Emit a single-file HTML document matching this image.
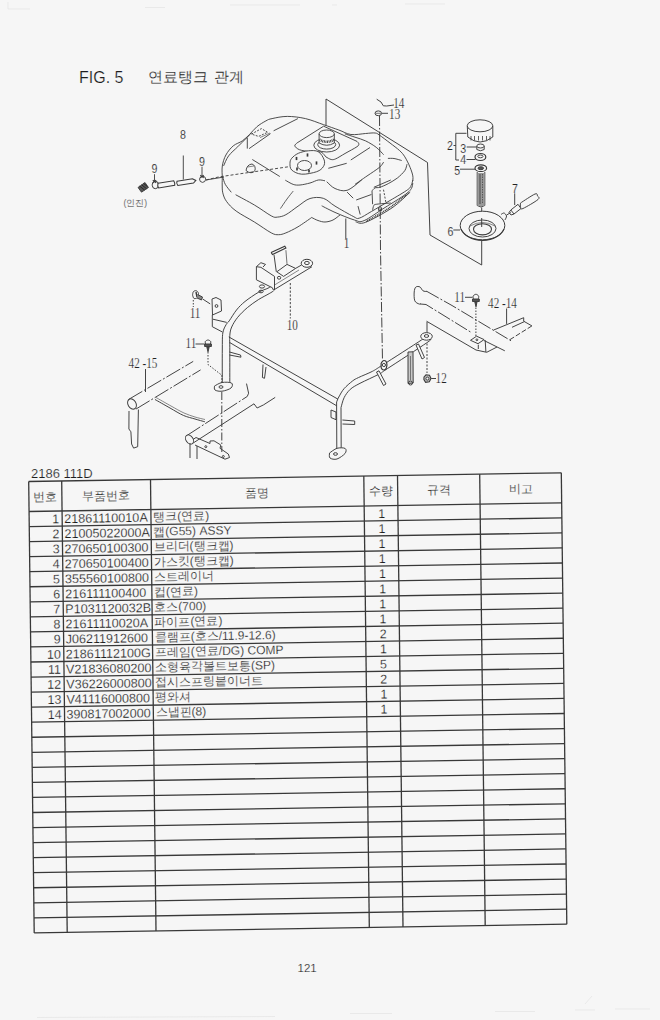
<!DOCTYPE html>
<html><head><meta charset="utf-8">
<style>
html,body{margin:0;padding:0;background:#f6f6f6;}
body{width:660px;height:1020px;position:relative;overflow:hidden;font-family:"Liberation Sans",sans-serif;}
svg{position:absolute;left:0;top:0;}
text{font-family:"Liberation Sans",sans-serif;fill:#1e1e1e;stroke:#f6f6f6;stroke-width:0.18px;paint-order:fill;}
.n{font-size:12.5px;}
.pn{font-size:12.6px;}
.nm{font-size:12px;}
.hd{font-size:12px;}
</style></head><body>
<svg width="660" height="1020" viewBox="0 0 660 1020">
<g stroke="#e4e4e4" stroke-width="0.7" fill="none">
<path d="M8,2 L8,9 L30,9 M145,7.5 L165,7.5 M230,5 L300,5 M405,4 L445,4 M332,5 L337,5"/>
<path d="M37,1017.5 L275,1016.5 M350,1013.5 L392,1013.5 M495,1011.5 L535,1011.5 M575,1010 L595,1010 M615,1009 L650,1009 M585,1004 L592,996"/>
</g>
<text x="79" y="83" style="font-size:16px">FIG. 5</text>
<text x="147.5" y="81.7" style="font-size:15.2px;word-spacing:2.5px">연료탱크 관계</text>
<text x="31" y="478.3" style="font-size:13px">2186 111D</text>
<text x="297.5" y="972.3" style="font-size:11.5px">121</text>
<g transform="matrix(1 -0.0163 0.0122 1 28.7 481.5)">
<g stroke="#383838" stroke-width="1.3" fill="none">
<line x1="0" y1="0" x2="0" y2="451.40"/>
<line x1="33" y1="0" x2="33" y2="451.40"/>
<line x1="121.8" y1="0" x2="121.8" y2="451.40"/>
<line x1="335.1" y1="0" x2="335.1" y2="451.40"/>
<line x1="368.8" y1="0" x2="368.8" y2="451.40"/>
<line x1="451" y1="0" x2="451" y2="451.40"/>
<line x1="532.6" y1="0" x2="532.6" y2="451.40"/>
<line x1="0" y1="0.00" x2="532.6" y2="0.00"/>
<line x1="0" y1="30.00" x2="532.6" y2="30.00"/>
<line x1="0" y1="45.05" x2="532.6" y2="45.05"/>
<line x1="0" y1="60.10" x2="532.6" y2="60.10"/>
<line x1="0" y1="75.15" x2="532.6" y2="75.15"/>
<line x1="0" y1="90.20" x2="532.6" y2="90.20"/>
<line x1="0" y1="105.25" x2="532.6" y2="105.25"/>
<line x1="0" y1="120.30" x2="532.6" y2="120.30"/>
<line x1="0" y1="135.35" x2="532.6" y2="135.35"/>
<line x1="0" y1="150.40" x2="532.6" y2="150.40"/>
<line x1="0" y1="165.45" x2="532.6" y2="165.45"/>
<line x1="0" y1="180.50" x2="532.6" y2="180.50"/>
<line x1="0" y1="195.55" x2="532.6" y2="195.55"/>
<line x1="0" y1="210.60" x2="532.6" y2="210.60"/>
<line x1="0" y1="225.65" x2="532.6" y2="225.65"/>
<line x1="0" y1="240.70" x2="532.6" y2="240.70"/>
<line x1="0" y1="255.75" x2="532.6" y2="255.75"/>
<line x1="0" y1="270.80" x2="532.6" y2="270.80"/>
<line x1="0" y1="285.85" x2="532.6" y2="285.85"/>
<line x1="0" y1="300.90" x2="532.6" y2="300.90"/>
<line x1="0" y1="315.95" x2="532.6" y2="315.95"/>
<line x1="0" y1="331.00" x2="532.6" y2="331.00"/>
<line x1="0" y1="346.05" x2="532.6" y2="346.05"/>
<line x1="0" y1="361.10" x2="532.6" y2="361.10"/>
<line x1="0" y1="376.15" x2="532.6" y2="376.15"/>
<line x1="0" y1="391.20" x2="532.6" y2="391.20"/>
<line x1="0" y1="406.25" x2="532.6" y2="406.25"/>
<line x1="0" y1="421.30" x2="532.6" y2="421.30"/>
<line x1="0" y1="436.35" x2="532.6" y2="436.35"/>
<line x1="0" y1="451.40" x2="532.6" y2="451.40"/>
</g>
<text x="30" y="42.10" text-anchor="end" class="n">1</text>
<text x="35" y="42.10" class="pn">21861110010A</text>
<text x="124" y="41.10" class="nm">탱크(연료)</text>
<text x="352.5" y="42.10" text-anchor="middle" class="n">1</text>
<text x="30" y="57.15" text-anchor="end" class="n">2</text>
<text x="35" y="57.15" class="pn">21005022000A</text>
<text x="124" y="56.15" class="nm">캡(G55) ASSY</text>
<text x="352.5" y="57.15" text-anchor="middle" class="n">1</text>
<text x="30" y="72.20" text-anchor="end" class="n">3</text>
<text x="35" y="72.20" class="pn">270650100300</text>
<text x="124" y="71.20" class="nm">브리더(탱크캡)</text>
<text x="352.5" y="72.20" text-anchor="middle" class="n">1</text>
<text x="30" y="87.25" text-anchor="end" class="n">4</text>
<text x="35" y="87.25" class="pn">270650100400</text>
<text x="124" y="86.25" class="nm">가스킷(탱크캡)</text>
<text x="352.5" y="87.25" text-anchor="middle" class="n">1</text>
<text x="30" y="102.30" text-anchor="end" class="n">5</text>
<text x="35" y="102.30" class="pn">355560100800</text>
<text x="124" y="101.30" class="nm">스트레이너</text>
<text x="352.5" y="102.30" text-anchor="middle" class="n">1</text>
<text x="30" y="117.35" text-anchor="end" class="n">6</text>
<text x="35" y="117.35" class="pn">216111100400</text>
<text x="124" y="116.35" class="nm">컵(연료)</text>
<text x="352.5" y="117.35" text-anchor="middle" class="n">1</text>
<text x="30" y="132.40" text-anchor="end" class="n">7</text>
<text x="35" y="132.40" class="pn">P1031120032B</text>
<text x="124" y="131.40" class="nm">호스(700)</text>
<text x="352.5" y="132.40" text-anchor="middle" class="n">1</text>
<text x="30" y="147.45" text-anchor="end" class="n">8</text>
<text x="35" y="147.45" class="pn">21611110020A</text>
<text x="124" y="146.45" class="nm">파이프(연료)</text>
<text x="352.5" y="147.45" text-anchor="middle" class="n">1</text>
<text x="30" y="162.50" text-anchor="end" class="n">9</text>
<text x="35" y="162.50" class="pn">J06211912600</text>
<text x="124" y="161.50" class="nm">클램프(호스/11.9-12.6)</text>
<text x="352.5" y="162.50" text-anchor="middle" class="n">2</text>
<text x="30" y="177.55" text-anchor="end" class="n">10</text>
<text x="35" y="177.55" class="pn">21861112100G</text>
<text x="124" y="176.55" class="nm">프레임(연료/DG) COMP</text>
<text x="352.5" y="177.55" text-anchor="middle" class="n">1</text>
<text x="30" y="192.60" text-anchor="end" class="n">11</text>
<text x="35" y="192.60" class="pn">V21836080200</text>
<text x="124" y="191.60" class="nm">소형육각볼트보통(SP)</text>
<text x="352.5" y="192.60" text-anchor="middle" class="n">5</text>
<text x="30" y="207.65" text-anchor="end" class="n">12</text>
<text x="35" y="207.65" class="pn">V36226000800</text>
<text x="124" y="206.65" class="nm">접시스프링붙이너트</text>
<text x="352.5" y="207.65" text-anchor="middle" class="n">2</text>
<text x="30" y="222.70" text-anchor="end" class="n">13</text>
<text x="35" y="222.70" class="pn">V41116000800</text>
<text x="124" y="221.70" class="nm">평와셔</text>
<text x="352.5" y="222.70" text-anchor="middle" class="n">1</text>
<text x="30" y="237.75" text-anchor="end" class="n">14</text>
<text x="35" y="237.75" class="pn">390817002000</text>
<text x="124" y="236.75" class="nm">스냅핀(8)</text>
<text x="352.5" y="237.75" text-anchor="middle" class="n">1</text>
<text x="16.5" y="19.3" text-anchor="middle" class="hd">번호</text>
<text x="77.4" y="19.3" text-anchor="middle" class="hd">부품번호</text>
<text x="228.4" y="19.3" text-anchor="middle" class="hd">품명</text>
<text x="352" y="19.3" text-anchor="middle" class="hd">수량</text>
<text x="409.9" y="19.3" text-anchor="middle" class="hd">규격</text>
<text x="491.8" y="19.3" text-anchor="middle" class="hd">비고</text>
</g>
<g id="diagram" fill="none" stroke="#333" stroke-width="1">
<!-- Region A: fittings -->
<g id="A" stroke="#3a3a3a" stroke-width="0.9">
<line x1="154.5" y1="174.2" x2="154.5" y2="182.5"/>
<line x1="183.3" y1="155.5" x2="183.3" y2="179.5"/>
<line x1="202" y1="166.7" x2="202" y2="176.7"/>
<path d="M138,187.5 L145,182.5 L148.5,187.5 L141.5,192.2 Z" fill="#555" stroke="#333" stroke-width="0.8"/>
<path d="M139.5,186 l5,4 M141.5,184.7 l5,4 M143.5,183.4 l4,3.2" stroke="#222" stroke-width="0.9"/>
<path d="M152.3,184.2 q0.2,-2.8 3,-3 q3,0.2 3.2,3 l0,1.5 q-0.2,2.8 -3.2,3 q-2.8,-0.2 -3,-3 z" fill="#f6f6f6" stroke-width="1"/>
<path d="M158,183.3 L173.7,180.8 Q175.2,183 174.7,185.3 L158.7,188 Q157.2,185.6 158,183.3 Z" fill="#f6f6f6" stroke-width="1.1"/>
<path d="M177,181.2 L192.5,178.7 L195.8,180.5 L193.5,183 L177.8,185.5 Q176,183.3 177,181.2 Z" fill="#f6f6f6" stroke-width="1.1"/>
<path d="M199.5,179 q0.5,-2.8 3.2,-2.8 q3,0.2 3,3 q-0.3,3 -3.2,3.2 q-3,-0.2 -3,-3.4 z" fill="#f6f6f6"/>
<path d="M200.3,175.3 l3.4,2.6 M203.7,175.3 l-3.4,2.6" stroke-width="1.1"/>
<path d="M152.8,180.3 l3.4,2.6 M156.2,180.3 l-3.4,2.6" stroke-width="1.1"/>
<line x1="205.8" y1="180" x2="224" y2="177"/>
</g>

<g id="tank" stroke="#3a3a3a" stroke-width="0.9">
<path d="M222.3,177.0 C222.3,175.2 221.7,169.7 222.3,166.0 C222.9,162.3 224.1,158.3 225.9,155.0 C227.7,151.7 230.5,148.2 233.2,145.9 C235.9,143.6 239.6,142.8 242.3,140.9 C245.0,139.0 247.1,136.8 249.5,134.5 C251.9,132.2 254.1,129.1 256.8,126.8 C259.5,124.5 263.3,122.3 265.9,120.9 C268.4,119.5 268.5,119.3 272.1,118.6 C275.7,117.8 281.7,116.4 287.3,116.4 C292.9,116.4 299.4,117.2 305.5,118.6 C311.6,120.0 318.1,122.8 323.6,124.7 C329.2,126.6 334.2,128.4 338.8,130.0 C343.4,131.6 346.4,133.9 350.9,134.5 C355.4,135.1 361.6,133.8 365.6,133.5 C369.6,133.2 372.8,132.7 375.1,133.0 C377.4,133.3 376.9,133.4 379.4,135.1 C381.9,136.8 386.6,140.4 390.0,143.0 C393.4,145.6 397.0,148.2 399.5,150.5 C402.0,152.8 403.0,154.0 404.8,156.8 C406.6,159.6 408.8,164.2 410.1,167.4 C411.4,170.6 412.4,173.6 412.8,175.9 C413.2,178.2 412.8,180.2 412.8,181.0" />
<path d="M223.6,165.9 C224.4,164.2 226.2,159.1 228.6,155.9 C230.9,152.7 234.8,149.7 237.7,146.8 C240.6,143.9 243.6,140.9 245.9,138.6 C248.2,136.3 250.5,134.1 251.4,133.2" />
<path d="M222.3,177.0 C222.3,178.3 222.1,182.3 222.2,185.0 C222.3,187.7 222.1,190.2 222.8,192.9 C223.5,195.6 224.3,198.4 226.5,201.4 C228.7,204.4 231.5,207.7 236.2,211.1 C240.8,214.5 248.6,218.4 254.4,222.0 C260.2,225.6 267.3,230.8 271.3,232.9 C275.3,235.0 276.2,234.7 278.6,234.7 C281.0,234.7 282.7,234.2 285.9,232.9 C289.1,231.6 293.7,229.4 298.0,226.8 C302.3,224.2 309.4,219.1 311.7,217.5" />
<path d="M311.7,217.5 C312.8,218.0 315.8,219.8 318.0,220.5 C320.2,221.2 322.5,222.1 325.0,222.0 C327.5,221.9 330.5,221.2 333.0,220.0 C335.5,218.8 338.8,215.8 340.0,215.0" />
<path d="M222.8,177.1 C223.2,178.3 223.9,181.9 225.3,184.4 C226.7,186.9 230.3,191.0 231.3,192.3" />
<path d="M235.6,194.7 C238.7,196.4 248.4,201.5 254.4,205.0 C260.4,208.5 267.5,213.9 271.3,215.9 C275.1,217.9 275.0,217.3 277.4,217.1 C279.8,216.9 282.5,216.5 285.9,214.7 C289.3,212.9 294.0,208.9 298.0,206.2 C302.0,203.5 305.8,199.8 310.0,198.5 C314.2,197.2 319.1,197.0 323.3,198.3 C327.5,199.6 330.0,203.1 335.0,206.1 C340.0,209.1 349.2,214.4 353.2,216.4 C357.2,218.4 356.2,219.0 359.2,218.2 C362.2,217.4 366.3,214.4 371.4,211.5 C376.5,208.6 383.9,204.1 390.0,200.5 C396.1,196.9 404.1,192.3 407.7,189.7 C411.3,187.1 410.5,186.4 411.4,184.8 C412.2,183.2 412.6,180.8 412.8,180.0" />
<path d="M321.7,205.8 C323.9,206.9 329.6,210.0 335.0,212.4 C340.4,214.8 349.5,218.6 354.4,220.0 C359.2,221.4 359.0,222.7 364.1,220.6 C369.2,218.5 378.1,211.8 385.0,207.5 C391.9,203.2 400.9,197.7 405.3,194.5 C409.7,191.3 410.1,190.4 411.4,188.5 C412.6,186.6 412.6,183.9 412.8,183.0" />
<path d="M355.6,221.8 C357.2,221.9 359.2,224.7 365.3,222.4 C371.4,220.1 384.5,213.0 392.0,207.9 C399.5,202.8 407.2,194.7 410.2,192.1" />
<path d="M366.0,221.5 C370.0,219.2 382.9,212.2 390.0,207.4 C397.1,202.6 405.4,195.2 408.5,192.8" stroke-width="1.6" stroke-dasharray="1,0.8"/>
<path d="M280.4,208.6 C281.5,207.0 284.9,201.9 287.0,199.0 C289.1,196.1 292.2,192.4 293.2,191.1" stroke-width="0.8"/>
<path d="M285.3,180.2 C286.6,180.9 290.8,183.6 293.2,184.4 C295.6,185.2 297.2,185.2 300.0,185.0 C302.8,184.8 306.9,183.8 310.0,183.0 C313.1,182.2 315.8,180.4 318.3,180.0 C320.8,179.6 323.9,180.7 325.0,180.8" />
<path d="M355.0,184.4 C357.0,183.0 362.9,178.8 367.0,176.0 C371.1,173.2 376.6,169.7 379.4,167.4 C382.2,165.1 382.9,163.0 383.6,162.1" />
<path d="M372.0,190.9 C372.5,190.4 373.7,188.5 375.0,187.9 C376.3,187.3 377.6,188.0 379.8,187.3 C382.0,186.6 385.4,185.2 388.3,183.6 C391.2,182.0 394.6,180.2 397.4,178.0 C400.1,175.8 403.2,172.9 404.8,170.6 C406.4,168.3 406.6,165.3 407.0,164.2" />
<path d="M372.0,190.9 L372.6,204.2" />
<path d="M372.6,210.3 C372.8,209.5 373.1,206.5 373.8,205.5 C374.5,204.5 374.0,204.6 376.8,204.2 C379.6,203.8 388.5,203.2 390.8,203.0" />
<path d="M383.5,189.7 L385.9,202.4" stroke-dasharray="2,1.5"/>
<path d="M356.2,200.0 L371.4,194.5" />
<path d="M358.0,206.1 L360.2,214.5" />
<path d="M347.1,192.1 L353.2,198.2" />
<path d="M326.7,181.7 C328.1,182.8 331.6,187.1 335.0,188.5 C338.4,189.9 342.7,191.7 347.1,190.3 C351.6,188.9 359.3,181.7 361.7,180.0" />
<path d="M373.8,187.3 L390.8,180.0" />
<rect x="378.6" y="207.9" width="3" height="2.4"/>
<path d="M344.8,133.8 C346.5,134.4 351.5,136.0 355.0,137.2 C358.5,138.4 362.1,139.2 365.6,140.9 C369.1,142.6 373.2,145.0 376.2,147.3 C379.2,149.6 382.4,153.5 383.6,154.7" />
<path d="M387.9,158.4 C388.9,158.4 391.7,158.2 394.0,158.5 C396.3,158.8 400.4,160.2 401.7,160.5" />
<path d="M346.7,163.3 L328.3,168.3" />
<path d="M350.8,160.0 L370.0,147.5" />
<path d="M247.3,137.7 L247.3,148.6" />
<path d="M249.1,148.6 L270.5,133.6" />
<path d="M251.4,134.1 L261.4,128.6 L267.7,132.3 L258.6,136.4 L251.4,134.1" stroke-dasharray="2,1.3"/>
<path d="M273.6,130.8 L297.9,118.6" />
<path d="M260.0,137.6 L270.0,133.0" stroke-width="0.6"/>
<path d="M252.3,159.5 L279.8,176.5" />
<path d="M246,170.5 Q247,164.5 252,164 Q256,165.5 255,170.5 Q251.5,175 246,170.5 Z"/>
<path d="M247.5,167.0 L254.0,166.0" stroke-width="0.6"/>
<path d="M206.0,180.0 L218.0,177.1 L233.8,174.7 L288.3,166.8" stroke-dasharray="3,2"/>
<path d="M297.1,142.9 C296.7,143.4 294.4,144.8 294.8,145.9 C295.2,147.0 296.9,148.7 299.4,149.7 C301.9,150.7 307.0,151.2 310.0,151.8 C313.0,152.4 316.3,153.2 317.6,153.5" />
<path d="M297.1,142.9 L323.6,126.2" />
<path d="M323.6,126.2 L357.0,141.4" />
<path d="M357.0,141.4 C357.3,141.8 358.8,142.9 358.8,143.8 C358.8,144.7 359.3,145.1 357.0,146.7 C354.7,148.3 348.5,151.5 345.0,153.5 C341.5,155.5 338.1,157.8 335.8,158.8 C333.5,159.8 332.8,159.8 331.2,159.5 C329.6,159.2 326.9,157.4 326.0,157.0" />
<ellipse cx="326.7" cy="145.2" rx="12.9" ry="6.8" fill="#f6f6f6"/>
<ellipse cx="326.7" cy="144.6" rx="9" ry="4.5"/>
<path d="M319.1,133.8 L319.1,143 Q326.7,147.5 334.3,143 L334.3,133.8" fill="#f6f6f6"/>
<ellipse cx="326.7" cy="133.8" rx="7.6" ry="3.8" fill="#f6f6f6"/>
<path d="M319.5,139.5 Q326.7,144 334,139.5" stroke-width="2.6" stroke-dasharray="0.9,0.7"/>
<path d="M291.7,158.3 C293.1,156.6 295.5,154.6 298.3,153.3 C301.1,152.1 305.0,151.1 308.3,150.8 C311.6,150.5 315.7,150.2 318.3,151.7 C320.9,153.2 323.4,157.5 324.2,160.0 C325.0,162.5 324.6,164.8 323.3,166.7 C322.1,168.6 320.3,170.4 316.7,171.7 C313.1,172.9 305.9,174.5 301.7,174.2 C297.5,173.9 293.6,171.8 291.7,170.0 C289.8,168.2 290.0,165.2 290.0,163.3 C290.0,161.4 290.3,160.0 291.7,158.3 Z" fill="#f6f6f6"/>
<path d="M318.3,151.7 C318.9,151.8 320.7,151.6 322.0,152.5 C323.3,153.4 325.3,156.2 326.0,157.0" />
<ellipse cx="304.5" cy="165.5" rx="7" ry="5"/>
<line x1="296.5" y1="156.9" x2="296.5" y2="160.1" stroke-width="1.7"/>
<line x1="307.5" y1="153.4" x2="307.5" y2="156.6" stroke-width="1.7"/>
<line x1="316.5" y1="161.4" x2="316.5" y2="164.6" stroke-width="1.7"/>
<line x1="309" y1="169.4" x2="309" y2="172.6" stroke-width="1.7"/>
<line x1="297" y1="167.4" x2="297" y2="170.6" stroke-width="1.7"/>
</g>
<g id="frame" stroke="#3a3a3a" stroke-width="0.95">
<path d="M222.3,384.0 C222.3,378.3 222.2,358.5 222.3,350.0 C222.4,341.5 222.2,337.2 222.8,333.0 C223.5,328.8 225.1,326.5 226.2,324.5 C227.3,322.5 227.5,323.3 229.2,320.9 C230.9,318.5 233.9,313.2 236.5,310.0 C239.1,306.8 241.4,304.4 245.0,301.5 C248.6,298.6 254.5,294.6 258.3,292.4 C262.1,290.2 265.8,289.3 268.0,288.2 C270.2,287.1 270.9,286.4 271.5,286.0" />
<path d="M229.8,384.0 C229.8,378.3 229.8,358.1 229.8,350.0 C229.8,341.9 229.5,339.3 229.8,335.5 C230.1,331.7 230.4,330.0 231.7,327.0 C233.0,324.0 235.1,320.5 237.7,317.3 C240.3,314.1 244.0,310.5 247.4,307.6 C250.8,304.7 254.7,302.0 258.3,299.7 C261.9,297.4 266.7,295.1 269.2,293.6 C271.7,292.2 272.8,291.4 273.5,291.0" />
<path d="M214.5,386.0 C215.8,385.4 219.2,383.0 222.0,382.5 C224.8,382.0 230.0,382.1 231.5,383.0 C233.0,383.9 232.6,386.6 231.0,388.0 C229.4,389.4 224.7,390.9 222.0,391.2 C219.3,391.5 216.2,390.9 215.0,390.0 C213.8,389.1 214.6,386.7 214.5,386.0" fill="#f6f6f6"/>
<ellipse cx="221" cy="387" rx="2" ry="1.3"/>
<path d="M256.4,266.7 L256.4,279.8 L272.3,287.7 L273.4,290.0 L274.5,290.0 L274.5,276.4 L260.9,267.3 L256.4,266.7" fill="#f6f6f6"/>
<path d="M256.4,266.7 L260.9,262.7 L265.5,264.4 L263.0,267.0" />
<ellipse cx="262" cy="286.5" rx="2.6" ry="1.6"/>
<ellipse cx="261" cy="291.5" rx="2.2" ry="1.3"/>
<path d="M271.1,252.5 L284.8,246.3 L285.9,248.0 L272.5,254.5 L271.1,252.5" fill="#f6f6f6" stroke-width="1.1"/>
<path d="M274.0,254.8 L276.3,271.8" />
<path d="M285.9,250.2 L287.0,263.9" stroke-width="0.7"/>
<path d="M276.8,271.8 L287.0,264.4 L295.6,268.4 L283.6,276.4 L276.8,271.8" fill="#f6f6f6"/>
<ellipse cx="279.1" cy="277.8" rx="1.7" ry="1.4"/>
<path d="M295.6,268.4 L301.5,265.0" />
<path d="M274.5,289.5 L312.0,266.7" />
<path d="M274.5,285.0 L299.0,270.0" stroke-width="0.6"/>
<ellipse cx="306.9" cy="263.3" rx="5.7" ry="4" fill="#f6f6f6" stroke-width="1"/>
<ellipse cx="306.9" cy="263" rx="2.4" ry="1.6"/>
<path d="M290.3,283.0 L290.3,318.5" stroke-dasharray="2.2,1.6"/>
<path d="M193.3,300.0 L193.3,307.0" stroke-dasharray="1.5,1.5"/>
<path d="M192.5,295.0 C192.7,294.4 192.8,292.2 193.5,291.5 C194.2,290.8 195.7,290.5 196.5,290.8 C197.3,291.1 198.3,292.4 198.5,293.5 C198.7,294.6 198.2,296.7 197.5,297.5 C196.8,298.3 194.8,298.9 194.0,298.5 C193.2,298.1 192.8,295.6 192.5,295.0" fill="#f6f6f6"/>
<path d="M196.0,292.0 L197.0,297.0" stroke-width="1.4"/>
<path d="M197.5,294.5 L202.5,297.0 L201.5,300.0 L197.0,298.0" fill="#888"/>
<path d="M202.8,299.1 L210.2,303.9" />
<path d="M212.0,299.0 L216.0,297.5 L221.0,300.0 L221.5,311.0 L212.5,315.0 L212.0,299.0" fill="#f6f6f6"/>
<circle cx="216.5" cy="306" r="1.4"/>
<path d="M212.3,315.0 L212.3,326.7 L222.4,332.0" />
<path d="M212.9,319.2 L226.7,322.4" />
<path d="M228.8,336.9 L338.0,399.2" />
<path d="M229.5,342.4 L336.5,405.7" />
<path d="M229.5,352.0 L240.5,355.0 L241.0,357.2 L229.5,355.0" />
<path d="M263.0,364.5 L262.4,377.5 L264.5,378.3 L266.0,367.0" />
<path d="M336.6,402.0 L336.8,451.5" />
<path d="M341.0,407.6 L341.2,450.5" />
<path d="M336.6,402.0 C337.0,401.2 337.6,399.2 338.8,397.0 C340.1,394.8 341.8,391.2 344.1,388.6 C346.4,386.0 350.0,383.0 352.4,381.1 C354.8,379.2 355.3,379.1 358.6,377.5 C361.9,375.9 368.2,373.5 372.3,371.4 C376.4,369.2 375.0,369.8 383.2,364.6 C391.4,359.4 414.6,344.6 421.4,340.0 C428.2,335.4 423.7,337.5 424.1,337.0" />
<path d="M341.0,407.6 C341.5,406.0 342.6,400.7 344.1,397.7 C345.6,394.7 347.6,391.8 350.2,389.4 C352.8,387.0 355.2,385.9 360.0,383.3 C364.8,380.8 374.6,376.5 379.1,374.1 C383.7,371.7 379.3,373.9 387.3,368.7 C395.3,363.5 419.8,347.6 426.9,342.7 C434.0,337.8 429.5,340.0 430.0,339.5" />
<path d="M329.5,453.0 C330.8,452.2 334.4,449.1 337.0,448.3 C339.6,447.6 343.9,447.6 345.2,448.5 C346.5,449.4 346.4,451.8 345.0,453.5 C343.6,455.2 339.5,458.2 337.0,459.0 C334.5,459.8 331.2,459.0 330.0,458.0 C328.8,457.0 329.6,453.8 329.5,453.0" fill="#f6f6f6"/>
<ellipse cx="335.5" cy="454" rx="2" ry="1.3"/>
<path d="M331.0,410.0 L336.0,412.0 L336.0,419.7 L331.0,417.5 L331.0,410.0" />
<path d="M342.4,420.0 L354.7,421.0 L354.7,424.5 L342.5,424.0" />
<ellipse cx="426.5" cy="336.4" rx="5.8" ry="3.8" fill="#f6f6f6"/>
<ellipse cx="426.5" cy="336" rx="2.2" ry="1.4"/>
<path d="M416.0,345.0 L418.5,344.0 L424.5,357.5 L422.0,359.0 L416.0,345.0" fill="#f6f6f6"/>
<path d="M376.5,372.0 L379.0,370.8 L386.0,384.0 L383.5,385.5 L376.5,372.0" fill="#f6f6f6"/>
<path d="M381.2,363.0 C381.6,362.6 382.9,360.6 383.8,360.5 C384.7,360.4 386.2,361.2 386.6,362.5 C387.0,363.8 386.9,366.8 386.4,368.0 C385.9,369.2 384.6,370.0 383.8,370.0 C383.0,370.0 381.7,369.2 381.3,368.0 C380.9,366.8 381.2,363.8 381.2,363.0" fill="#f6f6f6" stroke-width="1.2"/>
<circle cx="383.9" cy="365" r="1.6"/>
<path d="M408.0,352.0 L413.0,351.8 L413.2,383.0 L408.0,383.5 L408.0,352.0" fill="#c8c8c8"/>
<path d="M410.5,356.0 L410.5,380.0" stroke-width="0.6"/>
<circle cx="410.5" cy="383" r="2"/>
<path d="M427.0,343.5 L427.0,373.0" stroke-dasharray="2,1.5"/>
<path d="M424,377 L426,374.8 L429.5,375.2 L431,378.5 L429.3,381.8 L425.6,382.3 L423.9,379.5 Z" fill="#bdbdbd" stroke-width="1.1"/>
<circle cx="427.4" cy="378.6" r="1.5" fill="#f6f6f6"/>
<path d="M431.2,378.5 L436.0,378.5" />
<path d="M427.0,322.0 L427.0,332.5" />
<path d="M427.0,291.5 C426.3,291.4 424.2,291.6 423.0,290.8 C421.8,290.1 421.2,287.6 420.0,287.0 C418.8,286.4 416.9,286.2 415.9,287.0 C414.9,287.8 414.4,289.7 414.2,292.0 C414.0,294.3 414.0,298.8 414.8,300.8 C415.6,302.8 418.1,303.6 419.1,304.0 C420.1,304.4 420.7,303.6 421.0,303.5" />
<path d="M426.5,291.2 L452.0,305.5 L511.4,341.0" stroke-dasharray="14,2,2,2"/>
<path d="M420.2,304.0 L426.0,304.5 L471.5,332.6" stroke-dasharray="14,2,2,2"/>
<path d="M426.5,321.2 L476.0,350.0" />
<path d="M484.0,340.5 L504.8,350.8" />
<path d="M470.5,340.3 L476.6,336.2 L484.1,339.6 L478.0,343.7 L470.5,340.3" fill="#f6f6f6"/>
<circle cx="476.9" cy="339.8" r="0.9"/>
<path d="M476.0,350.0 L486.7,352.3 L497.0,347.0" />
<path d="M478.3,344.7 L478.3,349.0" />
<path d="M485.2,340.2 L485.9,352.0" />
<path d="M493.7,330.0 L523.7,317.7 L523.7,321.2 L531.9,325.9" />
<path d="M531.9,325.9 L510.0,339.6" stroke-dasharray="5,2"/>
<path d="M512.0,327.3 L524.4,321.6" />
<path d="M506.6,308.5 L506.6,323.9" />
<path d="M465.0,297.3 L472.5,297.3" />
<path d="M473.5,299.0 C473.4,298.5 472.8,296.8 473.2,296.0 C473.6,295.2 475.0,294.3 475.9,294.3 C476.8,294.3 478.2,295.2 478.6,296.0 C479.0,296.8 478.4,298.5 478.3,299.0" fill="#f6f6f6"/>
<path d="M472.5,299.0 L479.3,299.0 L479.3,301.5 L472.5,301.5 L472.5,299.0" fill="#555"/>
<path d="M474.8,302.0 L476.0,306.8 L477.0,302.0" fill="#444"/>
<path d="M475.9,307.5 L475.9,336.0" stroke-dasharray="1.5,1.5"/>
<path d="M379.5,116.0 L380.5,250.0 L382.5,360.5" stroke-dasharray="10,2,1.5,2"/>
<path d="M195.5,344.0 L204.4,344.0" />
<path d="M205.5,344.0 C205.5,343.6 204.9,342.2 205.3,341.5 C205.7,340.8 207.1,340.0 208.0,340.0 C208.9,340.0 210.3,340.8 210.7,341.5 C211.1,342.2 210.5,343.6 210.5,344.0" fill="#f6f6f6"/>
<path d="M204.6,344.0 L211.4,344.0 L211.4,346.5 L204.6,346.5 L204.6,344.0" fill="#555"/>
<path d="M206.8,347.0 L208.0,351.8 L209.2,347.0" fill="#444"/>
<path d="M208.0,352.0 L208.0,364.5 L221.8,375.2 L221.8,383.0" stroke-dasharray="1.5,1.5"/>
<path d="M221.8,392.0 L221.8,452.0" stroke-dasharray="8,2,1.5,2"/>
<path d="M145.5,369.0 L145.5,392.0" />
<path d="M128.5,399.5 L193.2,361.4" stroke-dasharray="16,2,2,2"/>
<path d="M135.9,409.1 L200.6,369.9" stroke-dasharray="16,2,2,2"/>
<ellipse cx="132" cy="404" rx="4" ry="5.5" transform="rotate(-30 132 404)" fill="#f6f6f6"/>
<path d="M129.0,411.0 L128.9,429.0 L130.9,431.8 L131.6,444.0 L133.6,448.1 L137.7,446.7 L138.4,409.5" />
<path d="M155.0,399.5 C157.5,400.9 165.2,405.3 170.0,408.0 C174.8,410.7 179.4,413.7 183.6,415.5 C187.8,417.3 191.4,417.9 195.0,419.0 C198.6,420.1 203.2,421.3 204.9,421.8" />
<path d="M156.0,397.5 C158.5,398.9 166.3,403.4 171.0,406.0 C175.7,408.6 180.0,411.2 184.0,413.0 C188.0,414.8 191.5,415.9 195.0,417.0 C198.5,418.1 203.3,419.1 205.0,419.5" stroke-width="0.6"/>
<path d="M186.8,435.6 L247.3,396.4" stroke-dasharray="16,2,2,2"/>
<path d="M247.3,396.4 L248.6,393.2 L246.5,383.6" />
<path d="M193.2,443.0 L254.0,403.8 L257.1,408.0 L263.5,404.9 L275.2,397.4" />
<ellipse cx="189.5" cy="439.5" rx="3.5" ry="5" transform="rotate(-35 189.5 439.5)" fill="#f6f6f6"/>
<path d="M193.0,439.5 L196.0,437.5 L210.0,443.5 L210.0,441.0 L214.0,440.8 L220.8,445.0 L220.0,448.3 L228.3,454.0 L229.5,457.5 L225.0,459.2 L195.0,445.0" />
<circle cx="205.8" cy="446.7" r="1"/>
<circle cx="223.3" cy="456.5" r="1"/>
<path d="M190.0,443.0 L190.0,458.0" />
<path d="M197.0,446.0 L197.0,459.0" />
</g>
<g id="cap" stroke="#3a3a3a" stroke-width="0.95">
<path d="M326.0,99.0 L427.5,162.5 L430.0,235.0 L481.7,265.0" />
<path d="M326.0,99.0 L326.0,125.5" />
<path d="M481.7,207.5 L481.7,226.7" />
<path d="M481.7,241.0 L481.7,265.0" />
<path d="M467.3,126 L467.8,137 Q480,147 492.8,137 L492.8,126" fill="#f6f6f6"/>
<ellipse cx="480" cy="125.8" rx="12.8" ry="6" fill="#f6f6f6"/>
<path d="M471.0,136.0 L471.0,140.5" stroke-width="0.8"/>
<path d="M474.5,136.0 L474.5,140.5" stroke-width="0.8"/>
<path d="M478.5,136.0 L478.5,140.5" stroke-width="0.8"/>
<path d="M482.5,136.0 L482.5,140.5" stroke-width="0.8"/>
<path d="M486.5,136.0 L486.5,140.5" stroke-width="0.8"/>
<path d="M490.0,136.0 L490.0,140.5" stroke-width="0.8"/>
<path d="M466.5,133.3 L455.8,133.3 L455.8,160.0 L459.0,160.0" />
<path d="M453.5,145.5 L455.8,145.5" />
<path d="M466.7,147.0 L476.5,147.0" />
<path d="M466.5,159.5 L475.5,159.5" />
<path d="M460.0,169.2 L475.5,169.2" />
<path d="M476.8,146 L476.8,149.5 Q480.5,152 484.2,149.5 L484.2,146" fill="#f6f6f6"/>
<ellipse cx="480.5" cy="146" rx="3.7" ry="2" fill="#f6f6f6"/>
<ellipse cx="480.4" cy="157" rx="5.4" ry="3.5" fill="#f6f6f6" stroke-width="1.2"/>
<ellipse cx="480.4" cy="156.4" rx="2.6" ry="1.4"/>
<ellipse cx="480.8" cy="168.2" rx="5.8" ry="3.4" fill="#f6f6f6" stroke-width="1.2"/>
<ellipse cx="480.8" cy="168.2" rx="2.8" ry="1.5" fill="#555"/>
<path d="M477.2,172 L477.2,205.5 Q481,208.5 484.8,205.5 L484.8,172" fill="#f6f6f6"/>
<rect x="477.6" y="173" width="6.8" height="33" fill="#999" stroke="none"/>
<path d="M480.0,174.0 L480.0,204.0" stroke-width="0.8" stroke="#333"/>
<path d="M482.5,174.0 L482.5,204.0" stroke-width="0.7" stroke-dasharray="1.5,1"/>
<ellipse cx="482.5" cy="225.5" rx="22.3" ry="14.3" fill="#f6f6f6" stroke-width="1"/>
<path d="M461,229 Q466,239.5 482.5,240.5 Q499,239.5 504,229" stroke-width="1.1"/>
<ellipse cx="482.5" cy="228.5" rx="13.5" ry="8.5"/>
<ellipse cx="482.5" cy="229.3" rx="9" ry="5.6" stroke-width="1.1"/>
<path d="M470,226 Q482.5,219 495,226" stroke-width="0.6"/>
<path d="M481.7,218.0 L481.7,227.0" />
<path d="M501.0,214.5 C501.5,214.2 503.1,212.8 504.0,213.0 C504.9,213.2 506.3,214.8 506.5,216.0 C506.7,217.2 505.2,219.3 505.0,220.0" />
<path d="M506.7,215.0 L510.8,212.5" />
<path d="M453.3,230.0 L460.0,230.0" />
<path d="M514.7,193.3 L514.7,205.0" />
<path d="M510.8,210.0 L518.0,204.3 L521.0,208.5 L514.0,214.0 L510.8,210.0" fill="#f6f6f6"/>
<path d="M510.8,210.0 L509.0,212.5 L511.0,215.0 L514.0,214.0" />
<path d="M520.5,203.0 C522.9,201.5 532.2,195.2 535.0,194.0 C537.8,192.8 537.0,195.1 537.5,196.0 C538.0,196.9 540.4,197.4 538.0,199.5 C535.6,201.6 525.9,207.2 523.0,208.5 C520.1,209.8 520.9,207.9 520.5,207.0 C520.1,206.1 520.5,203.7 520.5,203.0" fill="#f6f6f6"/>
<ellipse cx="378.3" cy="113.3" rx="3.3" ry="2.4" fill="#f6f6f6"/>
<path d="M375.5,113.3 L381.0,113.3" stroke-width="0.7"/>
<path d="M382.0,113.3 L388.0,113.3" />
<path d="M376.7,99.2 L381.0,102.0 L383.3,105.8 L386.7,106.0 L394.0,105.0" />
<path d="M345.8,218.5 L345.8,240.0" />
</g>
<g id="labels">
<text transform="translate(286.7,330.1) scale(0.82,1)" style="font-size:13.6px;font-family:'Liberation Serif',serif;fill:#222" stroke="#f6f6f6" stroke-width="0.2" paint-order="fill">10</text>
<text transform="translate(189.7,317.7) scale(0.82,1)" style="font-size:13.6px;font-family:'Liberation Serif',serif;fill:#222" stroke="#f6f6f6" stroke-width="0.2" paint-order="fill">11</text>
<text transform="translate(185.5,348.0) scale(0.82,1)" style="font-size:13.6px;font-family:'Liberation Serif',serif;fill:#222" stroke="#f6f6f6" stroke-width="0.2" paint-order="fill">11</text>
<text transform="translate(454.3,301.9) scale(0.82,1)" style="font-size:13.6px;font-family:'Liberation Serif',serif;fill:#222" stroke="#f6f6f6" stroke-width="0.2" paint-order="fill">11</text>
<text transform="translate(435.6,382.7) scale(0.82,1)" style="font-size:13.6px;font-family:'Liberation Serif',serif;fill:#222" stroke="#f6f6f6" stroke-width="0.2" paint-order="fill">12</text>
<text transform="translate(488.1,308.3) scale(0.82,1)" style="font-size:13.6px;font-family:'Liberation Serif',serif;fill:#222" stroke="#f6f6f6" stroke-width="0.2" paint-order="fill">42 -14</text>
<text transform="translate(128.6,367.8) scale(0.82,1)" style="font-size:13.6px;font-family:'Liberation Serif',serif;fill:#222" stroke="#f6f6f6" stroke-width="0.2" paint-order="fill">42 -15</text>
<text transform="translate(389.1,119.3) scale(0.82,1)" style="font-size:13.6px;font-family:'Liberation Serif',serif;fill:#222" stroke="#f6f6f6" stroke-width="0.2" paint-order="fill">13</text>
<text transform="translate(393.3,107.6) scale(0.82,1)" style="font-size:13.6px;font-family:'Liberation Serif',serif;fill:#222" stroke="#f6f6f6" stroke-width="0.2" paint-order="fill">14</text>
<text transform="translate(343.7,248.4) scale(0.82,1)" style="font-size:13.6px;font-family:'Liberation Serif',serif;fill:#222" stroke="#f6f6f6" stroke-width="0.2" paint-order="fill">1</text>
<text transform="translate(447.0,150.0) scale(0.82,1)" style="font-size:13px;font-family:'Liberation Sans',sans-serif;fill:#222" stroke="#f6f6f6" stroke-width="0.2" paint-order="fill">2</text>
<text transform="translate(460.3,152.5) scale(0.82,1)" style="font-size:13px;font-family:'Liberation Sans',sans-serif;fill:#222" stroke="#f6f6f6" stroke-width="0.2" paint-order="fill">3</text>
<text transform="translate(460.3,164.2) scale(0.82,1)" style="font-size:13px;font-family:'Liberation Sans',sans-serif;fill:#222" stroke="#f6f6f6" stroke-width="0.2" paint-order="fill">4</text>
<text transform="translate(454.2,175.0) scale(0.82,1)" style="font-size:13px;font-family:'Liberation Sans',sans-serif;fill:#222" stroke="#f6f6f6" stroke-width="0.2" paint-order="fill">5</text>
<text transform="translate(447.5,235.8) scale(0.82,1)" style="font-size:13px;font-family:'Liberation Sans',sans-serif;fill:#222" stroke="#f6f6f6" stroke-width="0.2" paint-order="fill">6</text>
<text transform="translate(512.0,192.5) scale(0.82,1)" style="font-size:13px;font-family:'Liberation Sans',sans-serif;fill:#222" stroke="#f6f6f6" stroke-width="0.2" paint-order="fill">7</text>
<text transform="translate(180.0,139.0) scale(0.82,1)" style="font-size:13px;font-family:'Liberation Sans',sans-serif;fill:#222" stroke="#f6f6f6" stroke-width="0.2" paint-order="fill">8</text>
<text transform="translate(151.5,173.3) scale(0.82,1)" style="font-size:13px;font-family:'Liberation Sans',sans-serif;fill:#222" stroke="#f6f6f6" stroke-width="0.2" paint-order="fill">9</text>
<text transform="translate(199.0,166.0) scale(0.82,1)" style="font-size:13px;font-family:'Liberation Sans',sans-serif;fill:#222" stroke="#f6f6f6" stroke-width="0.2" paint-order="fill">9</text>
<text x="123.5" y="206" style="font-size:8.5px;fill:#333" stroke="#f6f6f6" stroke-width="0.35" paint-order="fill">(인진)</text>
</g>
</g>
</svg>
</body></html>
